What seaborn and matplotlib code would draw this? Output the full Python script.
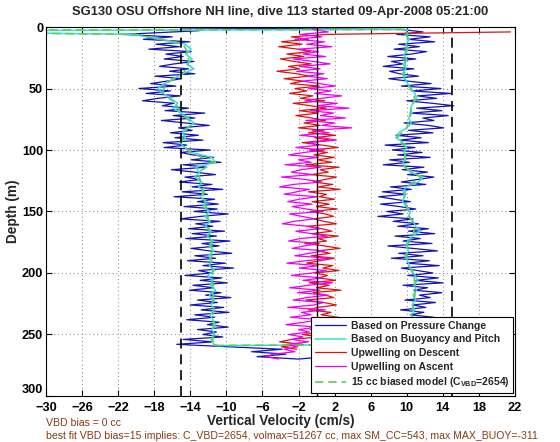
import numpy as np
import matplotlib
matplotlib.use('Agg')
import matplotlib.pyplot as plt
import seaborn as sns

# ---- data (velocity in cm/s, depth in m) ----
xticks = [-30, -26, -22, -18, -14, -10, -6, -2, 2, 6, 10, 14, 18, 22]
yticks = [0, 50, 100, 150, 200, 250, 300]

# pressure-change velocity, descent (depth 6..258 every 2 m)
blue_desc = [
    -21.5, -16.0, -19.2, -14.1, -17.8, -15.2, -18.6, -13.9, -16.7, -14.8,
    -16.9, -13.6, -15.8, -17.4, -14.2, -16.3, -13.5, -17.9, -15.0, -16.6,
    -18.4, -15.6, -19.7, -16.2, -18.9, -15.1, -17.6, -19.3, -15.8, -17.1,
    -14.2, -16.8, -12.4, -15.9, -13.5, -17.2, -14.6, -11.9, -15.3, -13.8,
    -16.2, -13.1, -15.7, -12.6, -17.0, -14.4, -16.9, -11.8, -15.1, -13.7,
    -11.4, -13.9, -10.6, -14.8, -12.2, -16.1, -13.5, -11.2, -14.6, -12.9,
    -15.2, -11.6, -13.8, -10.4, -14.9, -12.1, -15.8, -11.3, -13.2, -10.9,
    -14.7, -11.0, -13.6, -9.8, -12.9, -15.1, -10.7, -13.4, -11.5, -14.2,
    -10.2, -13.8, -11.1, -14.5, -9.6, -12.7, -10.8, -13.9, -11.9, -9.4,
    -13.5, -11.2, -14.3, -10.1, -12.6, -9.2, -13.1, -11.7, -14.6, -10.5,
    -12.9, -9.9, -13.7, -11.4, -14.1, -10.6, -12.3, -9.5, -13.2, -11.0,
    -14.0, -10.3, -12.8, -9.7, -13.5, -11.3, -14.4, -10.8, -12.1, -9.8,
    -13.2, -11.1, -12.6, -10.4, -14.8, -11.5, -15.5]
blue_desc_depth = np.arange(6, 260, 2)

# pressure-change velocity, ascent (depth 2..256 every 2 m)
blue_asc = [
    9.4, 11.8, 8.9, 12.6, 10.2, 13.1, 9.1, 11.4, 8.6, 12.2,
    10.5, 7.9, 11.0, 8.3, 9.6, 7.4, 10.8, 8.1, 9.2, 11.3,
    8.0, 10.1, 12.7, 9.4, 13.8, 10.6, 14.9, 11.2, 13.3, 10.0,
    12.8, 15.2, 11.1, 13.9, 10.4, 14.6, 11.8, 13.0, 9.7, 12.4,
    14.1, 10.2, 12.9, 8.8, 11.6, 9.3, 12.4, 7.6, 10.9, 8.4,
    11.7, 9.0, 12.6, 8.1, 10.3, 7.4, 11.9, 9.5, 12.3, 10.1,
    13.0, 11.2, 9.4, 12.1, 8.2, 10.5, 7.3, 9.9, 6.9, 8.6,
    10.4, 7.1, 9.2, 11.0, 7.8, 9.6, 6.8, 10.7, 8.5, 11.3,
    9.0, 12.4, 10.2, 13.1, 8.7, 11.5, 9.6, 12.8, 7.9, 10.6,
    13.4, 9.1, 11.8, 8.3, 12.5, 10.0, 13.6, 9.4, 11.2, 12.9,
    10.1, 13.5, 11.0, 14.0, 9.6, 12.3, 10.8, 13.9, 11.4, 12.6,
    9.8, 13.2, 10.7, 12.1, 9.3, 11.9, 10.4, 13.0, 9.9, 11.6,
    10.2, 12.7, 9.5, 11.8, 10.6, 12.2, 9.7, 11.1]
blue_asc_depth = np.arange(2, 258, 2)

blue_top_vel, blue_top_depth = [-13.0], [3.0]
blue_turn_vel = [-9.8, -3.8, -7.2, -3.4, -6.6, -2.0, 4.0, 9.0]
blue_turn_depth = [260, 262, 264, 266, 268, 270, 266, 261]
blue_end_vel, blue_end_depth = [-15.0], [0.8]

# buoyancy/pitch velocity (every 4 m)
cyan_desc = [
    -20.5, -17.2, -14.6, -13.9, -14.5, -13.8, -14.4, -13.6, -14.9, -15.8,
    -16.9, -17.6, -17.0, -16.2, -15.4, -15.9, -15.0, -14.2, -13.6, -14.3,
    -14.9, -14.5, -15.2, -14.6, -13.9, -11.6, -11.2, -13.4, -13.0, -13.5,
    -12.7, -13.1, -12.4, -12.9, -12.2, -12.6, -11.9, -12.4, -11.8, -12.3,
    -11.7, -12.1, -11.5, -11.9, -11.4, -12.0, -11.6, -11.9, -11.3, -12.1,
    -11.5, -11.8, -11.2, -11.9, -11.4, -11.7, -11.3, -11.8, -11.5, -11.2,
    -11.6, -11.3, -11.7, -11.4]
cyan_desc_depth = np.arange(6, 262, 4)
cyan_asc = [
    10.1, 9.8, 10.3, 9.9, 10.2, 9.7, 10.0, 9.6, 9.9, 9.5,
    9.8, 10.1, 10.5, 10.9, 11.1, 10.7, 10.4, 10.6, 10.2, 10.5,
    10.0, 9.1, 8.8, 9.6, 10.0, 9.7, 9.9, 9.6, 9.8, 10.4,
    11.8, 11.3, 9.9, 9.6, 9.8, 9.5, 10.0, 10.4, 10.2, 10.7,
    11.0, 11.5, 10.6, 10.1, 9.9, 10.2, 9.8, 10.1, 10.3, 10.6,
    10.9, 11.2, 10.8, 11.1, 10.7, 11.0, 10.6, 10.9, 10.5, 10.8,
    10.4, 10.7, 10.3, 10.6, 10.2]
cyan_asc_depth = np.arange(2, 262, 4)
cyan_top_vel, cyan_top_depth = [-40.0], [4.0]
cyan_turn_vel, cyan_turn_depth = [-10.9], [259.0]
cyan_end_vel, cyan_end_depth = [-40.0], [3.0]

# 15 cc biased model (every 8 m)
green_desc = [
    -20.0, -14.8, -14.2, -14.2, -14.8, -16.7, -17.1, -15.6, -15.1, -13.8,
    -14.7, -15.0, -14.0, -11.4, -13.1, -12.9, -12.6, -12.4, -12.1, -12.0,
    -11.9, -11.7, -11.6, -11.7, -11.5, -11.6, -11.4, -11.5, -11.4, -11.5,
    -11.4, -11.5]
green_desc_depth = np.arange(6, 262, 8)
green_asc = [
    10.0, 10.1, 10.0, 9.9, 9.8, 9.7, 10.4, 10.9, 10.5, 10.3,
    10.0, 8.9, 9.9, 9.8, 9.8, 11.6, 10.0, 9.7, 10.0, 10.3,
    10.9, 10.7, 10.0, 10.0, 10.2, 10.8, 10.9, 10.9, 10.7, 10.6,
    10.5, 10.5, 10.3]
green_asc_depth = np.arange(2, 262, 8)
green_top_vel, green_top_depth = [-40.0], [4.5]
green_turn_vel, green_turn_depth = [-11.3], [259.0]
green_end_vel, green_end_depth = [-40.0], [2.5]

# upwelling on descent (depth 4..262 every 2 m)
red_w = [
    21.5, 1.2, -2.8, -0.9, -3.9, -1.6, -4.2, -2.1, -0.7, -3.3,
    -1.4, -4.0, -2.5, -0.6, -3.1, -1.9, -4.4, -2.2, -0.8, -3.6,
    -1.5, -2.9, 0.3, -2.4, -1.1, -3.0, -0.4, -1.8, 0.9, -2.6,
    -0.7, 1.1, -1.9, 0.2, -2.3, -0.5, 1.0, -1.4, 0.4, -2.0,
    0.8, -0.9, 2.1, -0.2, 1.5, -1.6, 0.6, 2.4, -0.8, 1.2,
    -0.3, 2.0, 0.1, 1.7, -1.2, 2.5, 0.4, 1.3, -0.6, 2.2,
    0.9, -0.4, 1.8, 0.2, 2.6, -0.9, 1.1, 0.3, 2.0, -0.5,
    1.4, 0.0, 2.3, -0.7, 1.0, 1.9, -0.3, 0.8, 2.2, -1.0,
    0.6, 1.7, -0.5, 2.4, 0.2, 1.1, -1.3, 0.9, 2.6, 0.1,
    1.5, -0.6, 2.0, 0.4, -1.1, 1.8, 0.7, 2.5, -0.2, 1.2,
    0.3, 2.1, -0.8, 1.4, 0.0, 2.7, -0.4, 1.0, 1.9, -1.2,
    0.8, 2.2, 0.1, -0.9, 1.6, 0.5, 2.4, -0.3, 1.1, 0.2,
    1.9, -0.7, 0.9, -1.6, 0.4, -2.8, -4.1, -1.5, -3.9, -2.2]
red_depth = np.arange(4, 264, 2)

# upwelling on ascent (depth 2..270 every 2 m)
mag_w = [
    -0.4, 1.3, -1.8, 0.6, -2.4, 0.9, -1.1, 1.7, -2.0, 0.2,
    -1.5, 1.0, -2.6, -0.3, 1.5, -1.9, 0.4, -2.2, 0.8, -1.0,
    1.2, -1.6, 0.3, 2.1, -0.9, 1.6, -0.2, 2.8, 0.5, -1.3,
    2.3, 0.1, 3.6, -0.7, 1.9, 0.4, 3.2, -1.2, 2.0, 0.6,
    3.9, -0.5, 1.4, -1.8, 0.7, 2.2, -0.9, 0.3, -2.3, 0.9,
    -1.4, -3.1, 0.2, -2.0, -0.6, -3.5, 0.5, -1.7, -2.8, -0.4,
    -3.9, -1.2, 0.6, -2.6, -4.1, -0.8, -2.2, -3.6, 0.1, -1.9,
    -3.2, -0.5, -2.7, -1.1, 0.7, -3.0, -1.6, -0.2, -2.5, -3.8,
    -1.0, 0.4, -2.3, -0.6, 1.2, -1.8, -3.1, 0.3, -1.4, -2.7,
    0.9, -0.8, -2.4, 1.5, -1.2, -3.3, 0.2, -1.9, 1.1, -0.5,
    -2.8, 0.6, -1.5, 1.8, -0.9, -3.0, 0.4, -2.1, 1.3, -1.1,
    -2.6, 0.8, -0.3, -3.2, 1.0, -1.7, -0.6, -2.9, 0.5, -1.4,
    -3.4, 0.1, -2.0, -0.8, -3.1, -1.5, -2.7, -0.9, -3.3, -2.1,
    -3.6, -2.4, -4.8, -5.6, -4.2]
mag_depth = np.arange(2, 272, 2)

sns.set_style('ticks')
plt.rcParams['font.family'] = ['Liberation Sans', 'DejaVu Sans']
plt.rcParams['font.weight'] = 'bold'
plt.rcParams['mathtext.fontset'] = 'custom'
plt.rcParams['mathtext.rm'] = 'Liberation Sans:bold'
plt.rcParams['mathtext.it'] = 'Liberation Sans:bold'
plt.rcParams['mathtext.bf'] = 'Liberation Sans:bold'

BLUE = '#1414b4'
CYAN = '#36dcdc'
RED = '#dc1414'
MAGENTA = '#f000f0'
GREEN = '#5ccc5c'
BROWN = '#8a3b12'


def join(*parts):
    return np.concatenate([np.asarray(p, dtype=float) for p in parts])


blue_x = join(blue_top_vel, blue_desc, blue_turn_vel, blue_asc[::-1], blue_end_vel)
blue_y = join(blue_top_depth, blue_desc_depth, blue_turn_depth, blue_asc_depth[::-1], blue_end_depth)
cyan_x = join(cyan_top_vel, cyan_desc, cyan_turn_vel, cyan_asc[::-1], cyan_end_vel)
cyan_y = join(cyan_top_depth, cyan_desc_depth, cyan_turn_depth, cyan_asc_depth[::-1], cyan_end_depth)
green_x = join(green_top_vel, green_desc, green_turn_vel, green_asc[::-1], green_end_vel)
green_y = join(green_top_depth, green_desc_depth, green_turn_depth, green_asc_depth[::-1], green_end_depth)

fig = plt.figure(figsize=(5.6, 4.42), dpi=100)
ax = fig.add_axes([0.0821, 0.1041, 0.8375, 0.8348])

kw = dict(sort=False, estimator=None, ax=ax)
sns.lineplot(x=blue_x, y=blue_y, color=BLUE, lw=0.9, label='Based on Pressure Change', **kw)
sns.lineplot(x=cyan_x, y=cyan_y, color=CYAN, lw=1.1, label='Based on Buoyancy and Pitch', **kw)
sns.lineplot(x=red_w, y=red_depth, color=RED, lw=0.9, label='Upwelling on Descent', **kw)
sns.lineplot(x=mag_w, y=mag_depth, color=MAGENTA, lw=0.9, label='Upwelling on Ascent', **kw)
sns.lineplot(x=green_x, y=green_y, color=GREEN, lw=1.2, linestyle=(0, (5, 3)),
             label=r'15 cc biased model (C$_{\rm VBD}$=2654)', **kw)

ax.axvline(0, color='k', lw=1.0)
ax.axvline(-15, color='k', lw=1.2, linestyle=(0, (6, 3.5)))
ax.axvline(15, color='k', lw=1.2, linestyle=(0, (6, 3.5)))

ax.set_xlim(-30, 22)
ax.set_ylim(300, 0)
ax.set_xticks(xticks)
ax.set_yticks(yticks)
ax.grid(True, color='#808080', linestyle=(0, (1, 3)), linewidth=0.7)
ax.set_axisbelow(True)
ax.tick_params(direction='in', length=4, width=0.8, top=True, right=True,
               bottom=True, left=True, labelsize=9.2, colors='k')
ax.tick_params(axis='x', pad=4.5)
ax.tick_params(axis='y', pad=2)
for lab in ax.get_xticklabels() + ax.get_yticklabels():
    lab.set_fontweight('bold')
ax.get_yticklabels()[-1].set_verticalalignment('bottom')
for s in ax.spines.values():
    s.set_visible(True)
    s.set_color('k')
    s.set_linewidth(0.8)

ax.set_xlabel('Vertical Velocity (cm/s)', fontsize=9.8, fontweight='bold', labelpad=0)
ax.set_ylabel('Depth (m)', fontsize=9.8, fontweight='bold')
ax.yaxis.set_label_coords(-0.055, 0.5)

leg = ax.legend(loc='lower left', bbox_to_anchor=(0.565, 0.008),
                prop={'size': 7.5, 'weight': 'bold'},
                frameon=True, fancybox=False, edgecolor='k', framealpha=1,
                handlelength=3.0, labelspacing=0.35, borderpad=0.35,
                handletextpad=0.45, borderaxespad=0)
leg.get_frame().set_linewidth(0.8)

fig.text(0.5, 1 - 12 / 442, 'SG130 OSU Offshore NH line, dive 113 started 09-Apr-2008 05:21:00',
         ha='center', va='center', fontsize=9.4, fontweight='bold')
fig.text(46 / 560, 1 - 423 / 442, 'VBD bias = 0 cc', color=BROWN, fontsize=7.6,
         fontweight='normal', va='center')
fig.text(46 / 560, 1 - 436 / 442,
         'best fit VBD bias=15 implies: C_VBD=2654, volmax=51267 cc, max SM_CC=543, max MAX_BUOY=-311',
         color=BROWN, fontsize=7.6, fontweight='normal', va='center')

fig.savefig('out.png', dpi=100)
